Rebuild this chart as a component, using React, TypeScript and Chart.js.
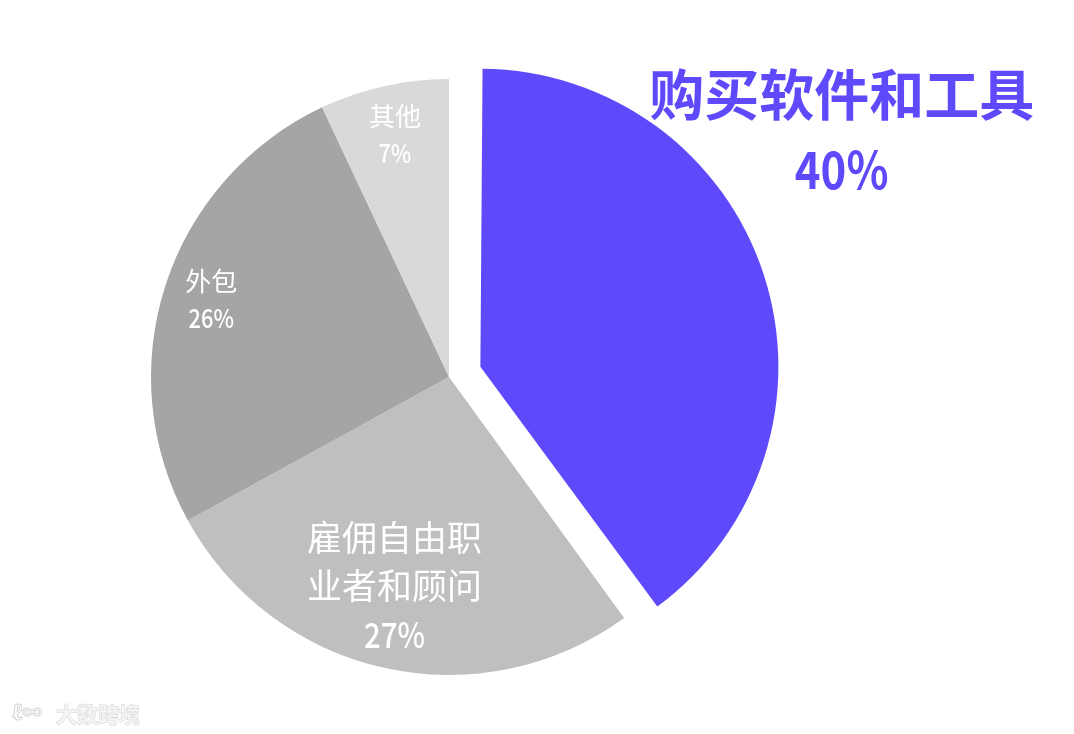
import React, { useEffect, useRef } from "react";
import { Chart, registerables } from "chart.js";

Chart.register(...registerables);

const categories = ["购买软件和工具", "雇佣自由职业者和顾问", "外包", "其他"];
const shares = [40, 27, 26, 7];
const sliceColors = ["#5E4AFB", "#BFBFBF", "#A5A5A5", "#D9D9D9"];
const sliceOffsets = [132, 0, 0, 0];

const FONT = '"Noto Sans CJK SC", "Noto Sans", sans-serif';

type LabelStyle = {
  r: number;
  dAngle: number;
  color: string;
  size: number;
  pctSize: number;
  weight: string;
  pctWeight: string;
  gap: number;
  wrap: number;
};

const labelStyles: LabelStyle[] = [
  { r: 463, dAngle: -14, color: "#5E4AFB", size: 55, pctSize: 52, weight: "bold", pctWeight: "bold", gap: 75, wrap: 7 },
  { r: 216, dAngle: 2, color: "#FFFFFF", size: 35, pctSize: 35, weight: "normal", pctWeight: "500", gap: 48.5, wrap: 5 },
  { r: 250, dAngle: 0, color: "#FFFFFF", size: 26, pctSize: 26, weight: "normal", pctWeight: "500", gap: 37, wrap: 5 },
  { r: 248, dAngle: 0, color: "#FFFFFF", size: 26, pctSize: 26, weight: "normal", pctWeight: "500", gap: 37, wrap: 5 },
];
const PCT_SQUEEZE = 0.84;

function wrapText(s: string, n: number): string[] {
  const out: string[] = [];
  for (let i = 0; i < s.length; i += n) out.push(s.slice(i, i + n));
  return out;
}

// keep exploded slices at the same radius as the others
// (Chart.js grows an offset arc's radius by offset/4 * (1 - sin(circumference)))
const keepRadiusPlugin = {
  id: "keepRadius",
  beforeDatasetsDraw(chart: any) {
    const meta = chart.getDatasetMeta(0);
    const base = meta.controller.outerRadius;
    meta.data.forEach((arc: any) => {
      const off = ((arc.options && arc.options.offset) || 0) / 4;
      const fix = 1 - Math.sin(Math.min(Math.PI, arc.circumference || 0));
      arc.outerRadius = base - off * fix;
    });
  },
};

const labelPlugin = {
  id: "sliceLabels",
  afterDatasetsDraw(chart: any) {
    const ctx: CanvasRenderingContext2D = chart.ctx;
    const meta = chart.getDatasetMeta(0);
    meta.data.forEach((arc: any, i: number) => {
      const st = labelStyles[i];
      const p = arc.getProps(["x", "y", "startAngle", "endAngle"], true);
      const a = (p.startAngle + p.endAngle) / 2 + (st.dAngle * Math.PI) / 180;
      const cx = p.x + Math.cos(a) * st.r;
      const cy = p.y + Math.sin(a) * st.r;
      const lines = wrapText(categories[i], st.wrap);
      const all = [...lines, shares[i] + "%"];
      const n = all.length;
      ctx.save();
      ctx.fillStyle = st.color;
      ctx.textAlign = "center";
      ctx.textBaseline = "middle";
      all.forEach((t, k) => {
        const isPct = k === n - 1;
        const y = cy + (k - (n - 1) / 2) * st.gap;
        if (isPct) {
          ctx.font = `${st.pctWeight} ${st.pctSize}px ${FONT}`;
          ctx.save();
          ctx.translate(cx, y);
          ctx.scale(PCT_SQUEEZE, 1);
          ctx.fillText(t, 0, 0);
          ctx.restore();
        } else {
          ctx.font = `${st.weight} ${st.size}px ${FONT}`;
          ctx.fillText(t, cx, y);
        }
      });
      ctx.restore();
    });
    // faint watermark
    ctx.save();
    ctx.font = `bold 21px ${FONT}`;
    ctx.textAlign = "left";
    ctx.textBaseline = "middle";
    ctx.lineWidth = 1;
    ctx.strokeStyle = "#D4D4D4";
    ctx.fillStyle = "#F4F4F4";
    ctx.strokeText("大数跨境", 56, 714);
    ctx.fillText("大数跨境", 56, 714);
    ctx.font = `bold 20px ${FONT}`;
    ctx.strokeText("ℓ∞", 12, 712);
    ctx.restore();
  },
};

export default function App() {
  const ref = useRef<HTMLCanvasElement | null>(null);
  useEffect(() => {
    if (!ref.current) return;
    const chart = new Chart(ref.current, {
      type: "pie",
      data: {
        labels: categories,
        datasets: [
          {
            data: shares,
            backgroundColor: sliceColors,
            borderWidth: 0,
            offset: sliceOffsets,
            hoverOffset: 0,
          },
        ],
      },
      options: {
        animation: false,
        responsive: true,
        maintainAspectRatio: false,
        radius: 298,
        layout: { padding: { left: 0, right: 176, top: 20, bottom: 0 } },
        plugins: { legend: { display: false }, tooltip: { enabled: false } },
        events: [],
      } as any,
      plugins: [keepRadiusPlugin, labelPlugin],
    });
    return () => chart.destroy();
  }, []);
  return (
    <div style={{ position: "fixed", left: 0, top: 0, width: 1074, height: 734, background: "#fff" }}>
      <canvas ref={ref} />
    </div>
  );
}
